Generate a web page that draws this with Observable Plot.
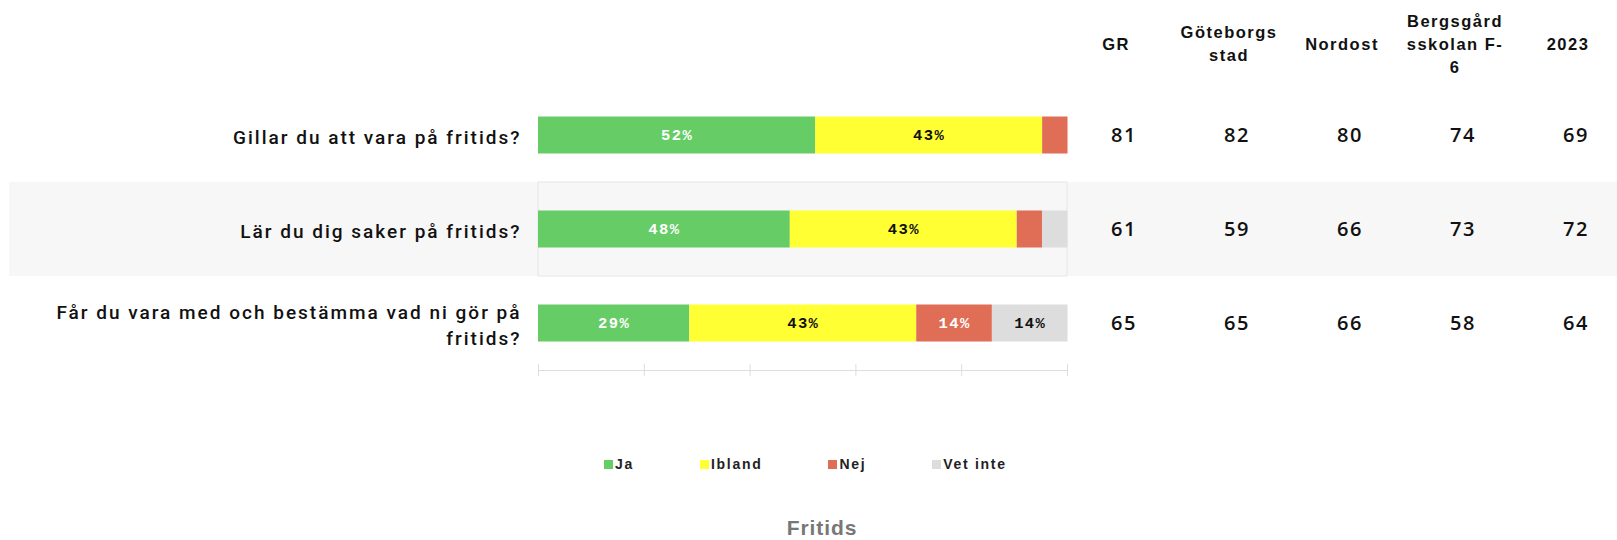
<!DOCTYPE html>
<html><head><meta charset="utf-8">
<script src="https://cdn.jsdelivr.net/npm/d3@7"></script>
<script src="https://cdn.jsdelivr.net/npm/@observablehq/plot@0.6"></script>
<style>
body{margin:0;background:#fff;}
#wrap{position:relative;width:1617px;height:540px;overflow:hidden;font-family:Roboto,"Liberation Sans",sans-serif;color:#111;}
#wrap svg{position:absolute;left:0;top:0;}
#legend{position:absolute;top:456px;left:604px;display:flex;gap:66px;font-family:"Liberation Sans",sans-serif;font-weight:bold;font-size:14px;letter-spacing:1.7px;color:#222;}
#legend .item{display:flex;align-items:center;}
#legend .sw{width:9px;height:9px;margin-right:2px;}
#title{position:absolute;top:518px;left:822px;transform:translateX(-50%);font-family:"Liberation Sans",sans-serif;font-weight:bold;font-size:21px;line-height:20px;color:#777;letter-spacing:0.9px;}
</style></head><body><div id="wrap"></div>
<script>
// ---- data ----
const questions = ["Gillar du att vara på fritids?", "Lär du dig saker på fritids?", "Får du vara med och bestämma vad ni gör på fritids?"];
const questionLabels = ["Gillar du att vara på fritids?", "Lär du dig saker på fritids?", "Får du vara med och bestämma vad ni gör på\nfritids?"];
const answers = ["Ja", "Ibland", "Nej", "Vet inte"];
const answerColors = ["#66cc66", "#ffff33", "#e06d55", "#dddddd"];
const ja      = [52.4, 47.6, 28.6];
const ibland  = [42.9, 42.9, 42.9];
const nej     = [4.8, 4.8, 14.3];
const vetInte = [0, 4.8, 14.3];
const columns = ["GR", "Göteborgs stad", "Nordost", "Bergsgård sskolan F-6", "2023"];
const headerLabels = ["GR", "Göteborgs\nstad", "Nordost", "Bergsgård\nsskolan F-\n6", "2023"];
const grValues        = [81, 61, 65];
const goteborgsValues = [82, 59, 65];
const nordostValues   = [80, 66, 66];
const bergsgardValues = [74, 73, 58];
const y2023Values     = [69, 72, 64];
const xTicks = [0, 20, 40, 60, 80, 100];
const titleText = "Fritids";

// ---- tables built from arrays ----
const answerSeries = [ja, ibland, nej, vetInte];
const stackRows = [];
questions.forEach((q, i) => answers.forEach((a, j) => stackRows.push({q, answer: a, value: answerSeries[j][i]})));
const colSeries = [grValues, goteborgsValues, nordostValues, bergsgardValues, y2023Values];
const valueRows = [];
columns.forEach((c, j) => questions.forEach((q, i) => valueRows.push({col: c, q, value: colSeries[j][i]})));
const headerRows = columns.map((c, j) => ({col: c, label: headerLabels[j]}));

const W = 1617, H = 400, MT = 87, MB = 30;
const whiteText = new Set(["Ja", "Nej"]);
const pct = d => Math.round(d.value) + "%";

const table = Plot.plot({
  width: W, height: H, marginTop: MT, marginBottom: MB, marginLeft: 9, marginRight: 0,
  style: {background: "transparent", color: "#111"},
  x: {type: "band", domain: columns, range: [1061, 1629], padding: 0, axis: null, label: null},
  y: {type: "band", domain: questions, padding: 0, axis: null, label: null},
  marks: [
    Plot.cell([questions[1]], {y: d => d, fill: "#f7f7f7"}),
    Plot.text(headerRows, {x: "col", text: "label", frameAnchor: "top", lineAnchor: "middle", dy: -45, dx: -4,
      fontWeight: "bold", fontSize: 16.5, lineHeight: 1.38, fontFamily: "Liberation Sans", fill: "#111"}),
    Plot.text(valueRows, {x: "col", y: "q", text: "value", dx: 4, fontSize: 20, fontWeight: 600,
      fontFamily: "Open Sans", fill: "#111"})
  ]
});

const bars = Plot.plot({
  width: W, height: H, marginTop: MT, marginBottom: MB, marginLeft: 538, marginRight: W - 1067,
  style: {background: "transparent", color: "#111"},
  x: {domain: [0, 100], label: null},
  y: {type: "band", domain: questions, padding: 0, label: null},
  color: {domain: answers, range: answerColors},
  marks: [
    Plot.cell([questions[1]], {y: d => d, stroke: "#e6e6e6"}),
    Plot.frame({anchor: "bottom", stroke: "#dddddd"}),
    Plot.axisX({ticks: xTicks, tickSize: 12, dy: -6, tickFormat: () => "", stroke: "#dddddd", label: null}),
    Plot.barX(stackRows, {x: "value", y: "q", fill: "answer", z: "answer", order: answers, insetTop: 28.5, insetBottom: 28.5}),
    Plot.text(stackRows, Plot.stackX({x: "value", y: "q", z: "answer", order: answers,
      text: d => d.value >= 10 && whiteText.has(d.answer) ? pct(d) : null,
      fill: "white", fontSize: 15.5, fontWeight: "bold", fontFamily: "Liberation Mono"})),
    Plot.text(stackRows, Plot.stackX({x: "value", y: "q", z: "answer", order: answers,
      text: d => d.value >= 10 && !whiteText.has(d.answer) ? pct(d) : null,
      fill: "#111", fontSize: 15.5, fontWeight: "bold", fontFamily: "Liberation Mono"})),
    Plot.axisY({tickSize: 0, tickPadding: 17, label: null,
      tickFormat: d => questionLabels[questions.indexOf(d)],
      fontSize: 19, lineHeight: 1.37, fontWeight: 500, fontFamily: "Roboto", fill: "#111"})
  ]
});

d3.select(table).selectAll("text").style("letter-spacing", "1.5px");
d3.select(bars).selectAll('g[aria-label="y-axis tick label"] text').style("letter-spacing", "2px");
d3.select(bars).selectAll('g[aria-label="text"] text').style("letter-spacing", "1.4px");

const wrap = document.getElementById("wrap");
wrap.append(table, bars);

const legend = document.createElement("div");
legend.id = "legend";
answers.forEach((a, j) => {
  const it = document.createElement("div");
  it.className = "item";
  const sw = document.createElement("span");
  sw.className = "sw";
  sw.style.background = answerColors[j];
  const tx = document.createElement("span");
  tx.textContent = a;
  it.append(sw, tx);
  legend.append(it);
});
wrap.append(legend);

const title = document.createElement("div");
title.id = "title";
title.textContent = titleText;
wrap.append(title);
</script>
</body></html>
